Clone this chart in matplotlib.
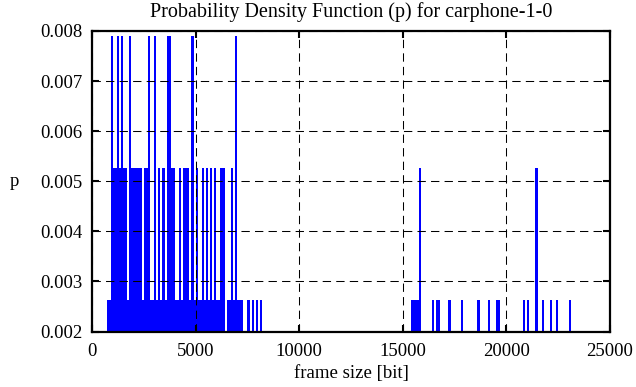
import numpy as np
import matplotlib
matplotlib.use("Agg")
import matplotlib.pyplot as plt

plt.rcParams['font.family'] = ['Liberation Serif', 'DejaVu Serif']

total_frames = 380

# frame size bins [bit] and number of frames falling in each
frame_bits = [
    700, 800, 900, 1000, 1100, 1200, 1300, 1400, 1500, 1600,
    1700, 1800, 1900, 2000, 2100, 2200, 2300, 2400, 2500, 2600,
    2700, 2800, 2900, 3000, 3100, 3200, 3300, 3400, 3500, 3600,
    3700, 3800, 3900, 4000, 4100, 4200, 4300, 4400, 4500, 4600,
    4700, 4800, 4900, 5000, 5100, 5200, 5300, 5400, 5500, 5600,
    5700, 5800, 5900, 6000, 6100, 6200, 6300, 6500, 6600, 6700,
    6800, 6900, 7000, 7100, 7200, 7500, 7700, 7900, 8100,
    15400, 15500, 15600, 15700, 15800, 16400, 16600, 16700, 17200, 17800,
    18600, 19100, 19500, 19600, 20800, 21000, 21400, 21700, 22100, 22400,
    23000,
]
frame_count = [
    1, 1, 3, 2, 2, 3, 2, 3, 2, 2,
    1, 3, 2, 2, 2, 2, 2, 1, 2, 2,
    3, 1, 1, 3, 1, 2, 1, 2, 1, 3,
    3, 2, 2, 1, 1, 2, 1, 2, 2, 2,
    1, 3, 1, 2, 1, 1, 2, 1, 2, 1,
    2, 1, 2, 1, 1, 2, 2, 1, 1, 2,
    1, 3, 1, 1, 1, 1, 1, 1, 1,
    1, 1, 1, 1, 2, 1, 1, 1, 1, 1,
    1, 1, 1, 1, 1, 1, 2, 1, 1, 1,
    1,
]

x_ticks = [0, 5000, 10000, 15000, 20000, 25000]
y_ticks = [0.002, 0.003, 0.004, 0.005, 0.006, 0.007, 0.008]

p = np.array(frame_count) / total_frames

fig = plt.figure(figsize=(6.36, 3.87), dpi=100)
ax = fig.add_axes([0.1447, 0.1434, 0.8145, 0.7766])

ax.bar(frame_bits, p, width=100, align='edge', color='#0000ff', linewidth=0, zorder=1)

ax.set_xlim(0, 25000)
ax.set_ylim(0.002, 0.008)
ax.set_xticks(x_ticks)
ax.set_yticks(y_ticks)
ax.set_xticklabels([str(t) for t in x_ticks])
ax.set_yticklabels(["%.3f" % t for t in y_ticks])

ax.grid(True, color='black', linestyle=(0, (8, 5)), linewidth=0.75, zorder=0)
ax.set_axisbelow(False)

for s in ax.spines.values():
    s.set_linewidth(1.6)
    s.set_zorder(3)

ax.tick_params(direction='in', length=5, width=1.5, top=True, right=True,
               labelsize=13.5, pad=8)
ax.tick_params(axis='y', pad=7)

ax.set_title("Probability Density Function (p) for carphone-1-0", fontsize=14.5, pad=10)
ax.set_xlabel("frame size [bit]", fontsize=13.5, labelpad=4)
ax.set_ylabel("p", fontsize=13.5, rotation=0, va='center')
ax.yaxis.set_label_coords(-0.15, 0.5)

fig.savefig("out.png", dpi=100)
